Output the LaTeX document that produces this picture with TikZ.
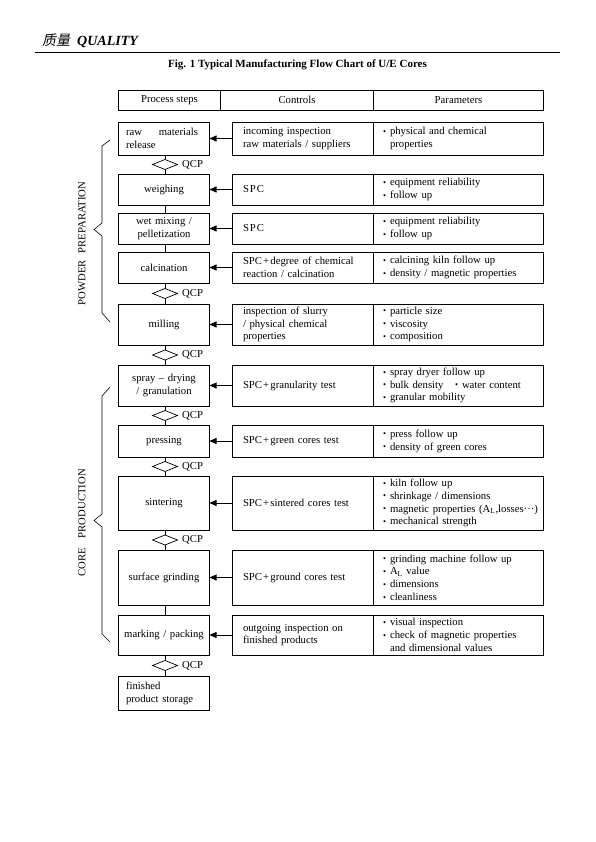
\documentclass[tikz,border=0pt]{standalone}
\usepackage{graphicx}
\usepackage{fontspec}
\setmainfont{Liberation Serif}
\newfontfamily\cjkfont[FakeSlant=0.2]{Noto Sans CJK SC}
\usetikzlibrary{arrows.meta,positioning,shapes.geometric}

\newcommand{\bul}{\makebox[7pt][l]{\raisebox{0.3pt}{\scalebox{0.8}{\textbullet}}}}
\newcommand{\cplus}{\kern1.2pt+\kern1.2pt}

\begin{document}
\begin{tikzpicture}[x=1pt, y=-1pt, >={Triangle[length=7pt,width=6pt]},
    every node/.style={font=\fontsize{10.7}{12.8}\selectfont},
    hdr/.style={draw, line width=0.9pt, minimum height=20pt, inner sep=0pt, outer sep=0pt},
    proc/.style={draw, line width=0.7pt, text width=84pt, inner xsep=3.5pt, inner ysep=0pt, outer sep=0pt, align=center},
    ctrl/.style={draw, line width=0.7pt, text width=119pt, inner xsep=11pt, inner ysep=0pt, outer sep=0pt, align=left},
    param/.style={draw, line width=0.7pt, text width=150pt, inner xsep=10pt, inner ysep=0pt, outer sep=0pt, align=left},
    qcp/.style={draw, line width=0.7pt, diamond, aspect=2.5, minimum width=25pt, minimum height=10pt, inner sep=0pt, outer sep=0pt},
    qcplab/.style={anchor=west, inner sep=0pt, xshift=4.5pt},
    link/.style={line width=0.7pt},
    brace/.style={line width=0.6pt}]
    \useasboundingbox (0,0) rectangle (595,842);

    % page head
    \node[anchor=west, inner sep=0pt, font=\fontsize{14}{16}\selectfont] (head) at (42,41)
        {{\cjkfont 质量}\hspace{7pt}\textbf{\textit{QUALITY}}};
    \draw[line width=1.2pt] (35,52.5) -- (560,52.5);
    \node[font=\bfseries\fontsize{11}{13}\selectfont] (title) at (297.5,64.5)
        {Fig. 1 Typical Manufacturing Flow Chart of U/E Cores};

    % table head
    \node[hdr, minimum width=102pt] (hsteps) at (169.5,100) {Process steps};
    \node[hdr, minimum width=153pt, right=0pt of hsteps] (hctrl) {Controls};
    \node[hdr, minimum width=170pt, right=0pt of hctrl] (hparam) {Parameters};

    % rows
    \node[proc, minimum height=33pt, text width=76pt, inner xsep=7.5pt, align=left] (raw) at (164,138.5)
        {\makebox[72pt][l]{raw\hfill materials}\\release};
    \node[ctrl, minimum height=33pt, right=22.5pt of raw] (rawc) {incoming inspection\\raw materials / suppliers};
    \node[param, minimum height=33pt, right=0pt of rawc] (rawp) {\bul physical and chemical\\\hspace*{7pt}properties};

    \node[proc, minimum height=31pt] (weigh) at (164,189.5) {weighing};
    \node[ctrl, minimum height=31pt, right=22.5pt of weigh] (weighc) {S\kern1pt P\kern1pt C};
    \node[param, minimum height=31pt, right=0pt of weighc] (weighp) {\bul equipment reliability\\\bul follow up};

    \node[proc, minimum height=31pt] (wetmix) at (164,228.5) {wet mixing /\\pelletization};
    \node[ctrl, minimum height=31pt, right=22.5pt of wetmix] (wetmixc) {S\kern1pt P\kern1pt C};
    \node[param, minimum height=31pt, right=0pt of wetmixc] (wetmixp) {\bul equipment reliability\\\bul follow up};

    \node[proc, minimum height=31pt] (calc) at (164,267.5) {calcination};
    \node[ctrl, minimum height=31pt, right=22.5pt of calc] (calcc) {SPC\cplus degree of chemical\\reaction / calcination};
    \node[param, minimum height=31pt, right=0pt of calcc] (calcp) {\bul calcining kiln follow up\\\bul density / magnetic properties};

    \node[proc, minimum height=41pt] (mill) at (164,324.5) {milling};
    \node[ctrl, minimum height=41pt, right=22.5pt of mill] (millc) {inspection of slurry\\/ physical chemical\\properties};
    \node[param, minimum height=41pt, right=0pt of millc] (millp) {\bul particle size\\\bul viscosity\\\bul composition};

    \node[proc, minimum height=41pt] (spray) at (164,385.5) {spray -- drying\\/ granulation};
    \node[ctrl, minimum height=41pt, right=22.5pt of spray] (sprayc) {SPC\cplus granularity test};
    \node[param, minimum height=41pt, right=0pt of sprayc] (sprayp) {\bul spray dryer follow up\\\makebox[72pt][l]{\bul bulk density}\bul water content\\\bul granular mobility};

    \node[proc, minimum height=32pt] (press) at (164,441) {pressing};
    \node[ctrl, minimum height=32pt, right=22.5pt of press] (pressc) {SPC\cplus green cores test};
    \node[param, minimum height=32pt, right=0pt of pressc] (pressp) {\bul press follow up\\\bul density of green cores};

    \node[proc, minimum height=54pt] (sinter) at (164,503) {sintering};
    \node[ctrl, minimum height=54pt, right=22.5pt of sinter] (sinterc) {SPC\cplus sintered cores test};
    \node[param, minimum height=54pt, right=0pt of sinterc] (sinterp) {\bul kiln follow up\\\bul shrinkage / dimensions\\\mbox{\bul magnetic properties (A\textsubscript{L},losses\textperiodcentered\textperiodcentered\textperiodcentered)}\\\bul mechanical strength};

    \node[proc, minimum height=55pt] (grind) at (164,577.5) {surface grinding};
    \node[ctrl, minimum height=55pt, right=22.5pt of grind] (grindc) {SPC\cplus ground cores test};
    \node[param, minimum height=55pt, right=0pt of grindc] (grindp) {\bul grinding machine follow up\\\bul A\textsubscript{L} value\\\bul dimensions\\\bul cleanliness};

    \node[proc, minimum height=40pt] (mark) at (164,635) {marking / packing};
    \node[ctrl, minimum height=40pt, right=22.5pt of mark] (markc) {outgoing inspection on\\finished products};
    \node[param, minimum height=40pt, right=0pt of markc] (markp) {\bul visual inspection\\\bul check of magnetic properties\\\hspace*{7pt}and dimensional values};

    \node[proc, minimum height=34pt, text width=76pt, inner xsep=7.5pt, align=left] (store) at (164,693) {finished\\product storage};

    % controls feed the steps
    \draw[->, link] (rawc) -- (raw);
    \draw[->, link] (weighc) -- (weigh);
    \draw[->, link] (wetmixc) -- (wetmix);
    \draw[->, link] (calcc) -- (calc);
    \draw[->, link] (millc) -- (mill);
    \draw[->, link] (sprayc) -- (spray);
    \draw[->, link] (pressc) -- (press);
    \draw[->, link] (sinterc) -- (sinter);
    \draw[->, link] (grindc) -- (grind);
    \draw[->, link] (markc) -- (mark);

    % quality control points
    \coordinate (ax) at (165,0);
    \node[qcp] (q1) at (165,164.5) {};
    \node[qcp] (q2) at (165,293.5) {};
    \node[qcp] (q3) at (165,355) {};
    \node[qcp] (q4) at (165,415.5) {};
    \node[qcp] (q5) at (165,466.5) {};
    \node[qcp] (q6) at (165,540) {};
    \node[qcp] (q7) at (165,665.5) {};
    \node[qcplab] (q1t) at (q1.east) {QCP};
    \node[qcplab] (q2t) at (q2.east) {QCP};
    \node[qcplab] (q3t) at (q3.east) {QCP};
    \node[qcplab] (q4t) at (q4.east) {QCP};
    \node[qcplab] (q5t) at (q5.east) {QCP};
    \node[qcplab] (q6t) at (q6.east) {QCP};
    \node[qcplab] (q7t) at (q7.east) {QCP};

    \draw[link] (raw.south -| q1) -- (q1.north);
    \draw[link] (q1.south) -- (weigh.north -| q1);
    \draw[link] (weigh.south -| ax) -- (wetmix.north -| ax);
    \draw[link] (wetmix.south -| ax) -- (calc.north -| ax);
    \draw[link] (calc.south -| q2) -- (q2.north);
    \draw[link] (q2.south) -- (mill.north -| q2);
    \draw[link] (mill.south -| q3) -- (q3.north);
    \draw[link] (q3.south) -- (spray.north -| q3);
    \draw[link] (spray.south -| q4) -- (q4.north);
    \draw[link] (q4.south) -- (press.north -| q4);
    \draw[link] (press.south -| q5) -- (q5.north);
    \draw[link] (q5.south) -- (sinter.north -| q5);
    \draw[link] (sinter.south -| q6) -- (q6.north);
    \draw[link] (q6.south) -- (grind.north -| q6);
    \draw[link] (grind.south -| ax) -- (mark.north -| ax);
    \draw[link] (mark.south -| q7) -- (q7.north);
    \draw[link] (q7.south) -- (store.north -| q7);

    % stage braces
    \draw[brace] (110,140) -- (102,146) -- (102,223) -- (94,229.5) -- (102,236) -- (102,313) -- (110,322);
    \draw[brace] (110,387) -- (102,396) -- (102,514) -- (94,520.5) -- (102,527) -- (102,634) -- (110,642);
    \node[rotate=90] (powder) at (82,243.5) {POWDER\hspace{7pt}PREPARATION};
    \node[rotate=90] (core) at (82,523) {CORE\hspace{10pt}PRODUCTION};
\end{tikzpicture}
\end{document}
